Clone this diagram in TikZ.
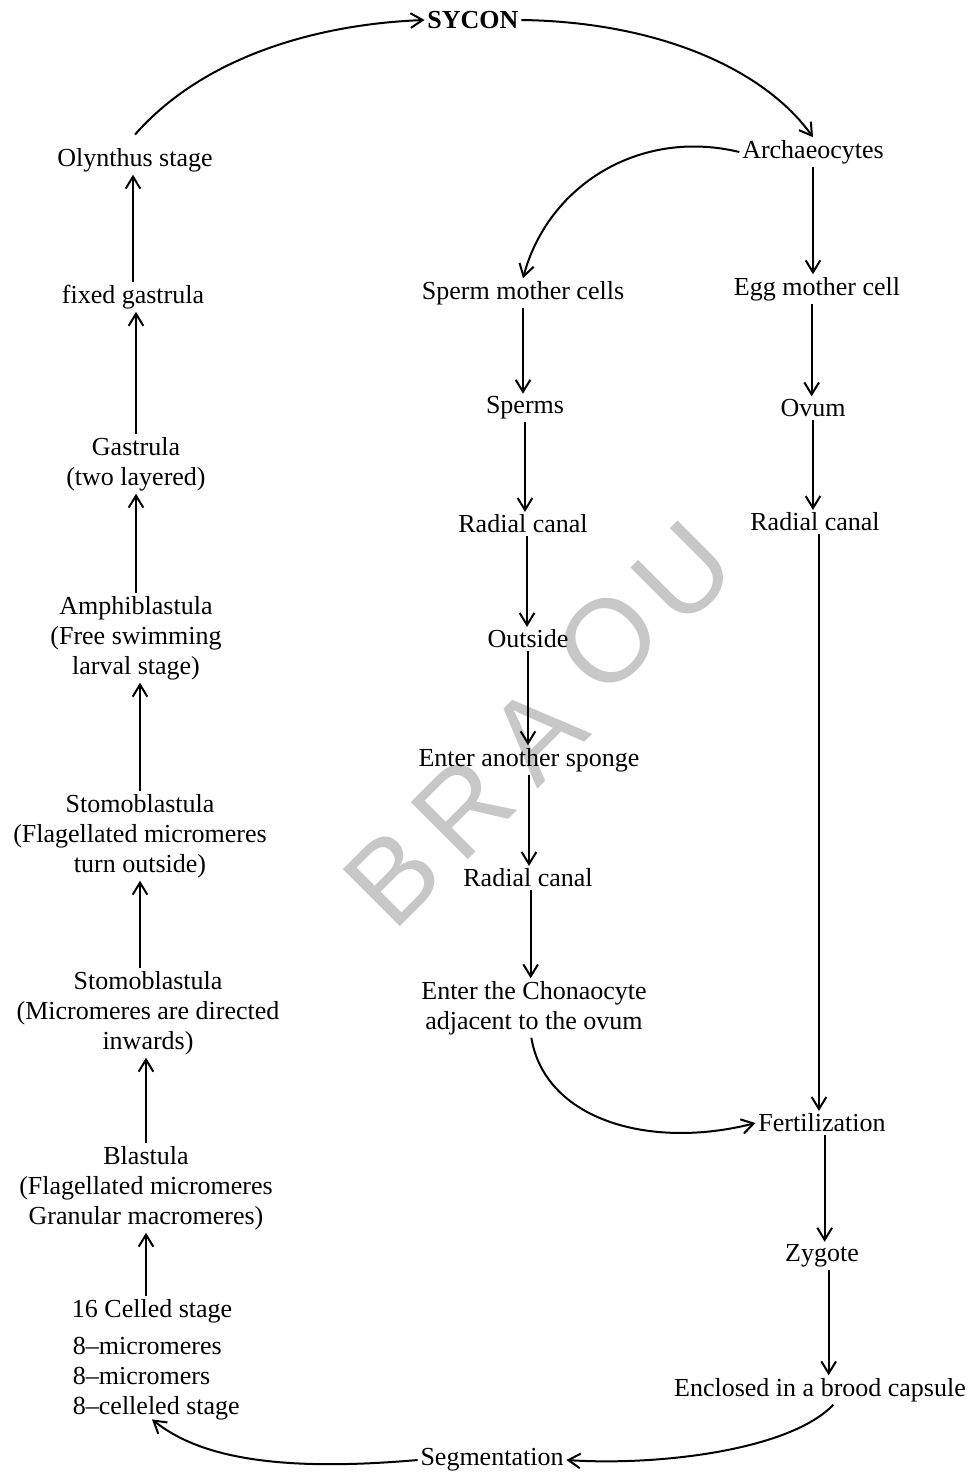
\documentclass[tikz,border=0pt]{standalone}
\usepackage{fontspec}
\setmainfont{Liberation Serif}
\setsansfont{Liberation Sans}
\usetikzlibrary{arrows.meta,calc}
\begin{document}
\begin{tikzpicture}[x=0.75pt,y=-0.75pt,
  lbl/.style={inner sep=2pt,align=center,font=\fontsize{19.5}{22.5}\selectfont},
  arr/.style={line width=1.5pt,-{Straight Barb[length=9pt,width=11pt,line width=1.5pt]}},
  wm/.style={text=black!22,font=\sffamily\fontsize{88}{88}\selectfont,rotate=45,inner sep=0pt}]
\useasboundingbox (0,0) rectangle (974,1475);
% watermark
\node[wm] (w1) at (393,877) {B};
\node[wm] (w2) at (463,808) {R};
\node[wm] (w3) at (537,733) {A};
\node[wm] (w4) at (608,641) {O};
\node[wm] (w5) at (683,573) {U};
% top
\node[lbl,font=\fontsize{19.5}{22.5}\selectfont\bfseries] (sycon) at (473,20) {SYCON};
% left column
\node[lbl] (oly) at (135,160) {Olynthus stage};
\node[lbl] (fg) at (133,297) {fixed gastrula};
\node[lbl] (gas) at (136,464) {Gastrula\\(two layered)};
\node[lbl] (amph) at (136,638) {Amphiblastula\\(Free swimming\\larval stage)};
\node[lbl] (st1) at (140,836) {Stomoblastula\\(Flagellated micromeres\\turn outside)};
\node[lbl] (st2) at (148,1013) {Stomoblastula\\(Micromeres are directed\\inwards)};
\node[lbl] (blas) at (146,1188) {Blastula\\(Flagellated micromeres\\Granular macromeres)};
\node[lbl,anchor=west] (c16) at (69,1311) {16 Celled stage};
\node[lbl,anchor=west,align=left] (eight) at (70,1379) {8--micromeres\\8--micromers\\8--celleled stage};
% sperm column
\node[lbl] (arch) at (813,152) {Archaeocytes};
\node[lbl] (smc) at (523,293) {Sperm mother cells};
\node[lbl] (sperms) at (525,408) {Sperms};
\node[lbl] (rc1) at (523,524) {Radial canal};
\node[lbl] (out) at (528,639) {Outside};
\node[lbl] (another) at (529,760) {Enter another sponge};
\node[lbl] (rc2) at (528,878) {Radial canal};
\node[lbl] (chona) at (534,1008) {Enter the Chonaocyte\\adjacent to the ovum};
% egg column
\node[lbl] (emc) at (817,289) {Egg mother cell};
\node[lbl] (ovum) at (813,408) {Ovum};
\node[lbl] (rc3) at (815,522) {Radial canal};
\node[lbl] (fert) at (822,1123) {Fertilization};
\node[lbl] (zyg) at (822,1256) {Zygote};
\node[lbl] (encl) at (820,1390) {Enclosed in a brood capsule};
\node[lbl] (seg) at (492,1460) {Segmentation};
% left upward arrows
\draw[arr] (c16.north -| blas) -- (blas.south);
\draw[arr] (blas.north) -- (blas.north |- st2.south);
\draw[arr] ([xshift=-6]st2.north) -- ([xshift=-6]st2.north |- st1.south);
\draw[arr] (st1.north) -- (st1.north |- amph.south);
\draw[arr] (amph.north) -- (amph.north |- gas.south);
\draw[arr] (gas.north) -- (gas.north |- fg.south);
\draw[arr] (fg.north) -- (fg.north |- oly.south);
% top arcs
\draw[arr] ([yshift=8]oly.north) .. controls (205,55) and (320,24) .. (sycon.west);
\draw[arr] (sycon.east) .. controls (660,22) and (765,70) .. (arch.north);
\draw[arr] (arch.west) .. controls (640,128) and (548,185) .. (smc.north);
% sperm column
\draw[arr] (smc.south) -- (smc.south |- sperms.north);
\draw[arr] (sperms.south) -- (sperms.south |- rc1.north);
\draw[arr] ([xshift=3]rc1.south) -- ([xshift=3]rc1.south |- out.north);
\draw[arr] (out.south) -- (out.south |- another.north);
\draw[arr] (another.south) -- (another.south |- rc2.north);
\draw[arr] ([xshift=2]rc2.south) -- ([xshift=2]rc2.south |- chona.north);
\draw[arr] ([xshift=-2]chona.south) .. controls (545,1120) and (650,1150) .. (fert.west);
% egg column
\draw[arr] (arch.south) -- (arch.south |- emc.north);
\draw[arr] ([xshift=-4]emc.south) -- ([xshift=-4]emc.south |- ovum.north);
\draw[arr] (ovum.south) -- (ovum.south |- rc3.north);
\draw[arr] ([xshift=3]rc3.south) -- ([xshift=3]rc3.south |- fert.north);
\draw[arr] ([xshift=2]fert.south) -- ([xshift=2]fert.south |- zyg.north);
\draw[arr] ([xshift=5]zyg.south) -- ([xshift=5]zyg.south |- encl.north);
% bottom arcs
\draw[arr] ([xshift=10]encl.south) .. controls (790,1450) and (660,1466) .. (seg.east);
\draw[arr] (seg.west) .. controls (280,1472) and (200,1458) .. ($(eight.south west)+(82,-4)$);
\end{tikzpicture}
\end{document}
